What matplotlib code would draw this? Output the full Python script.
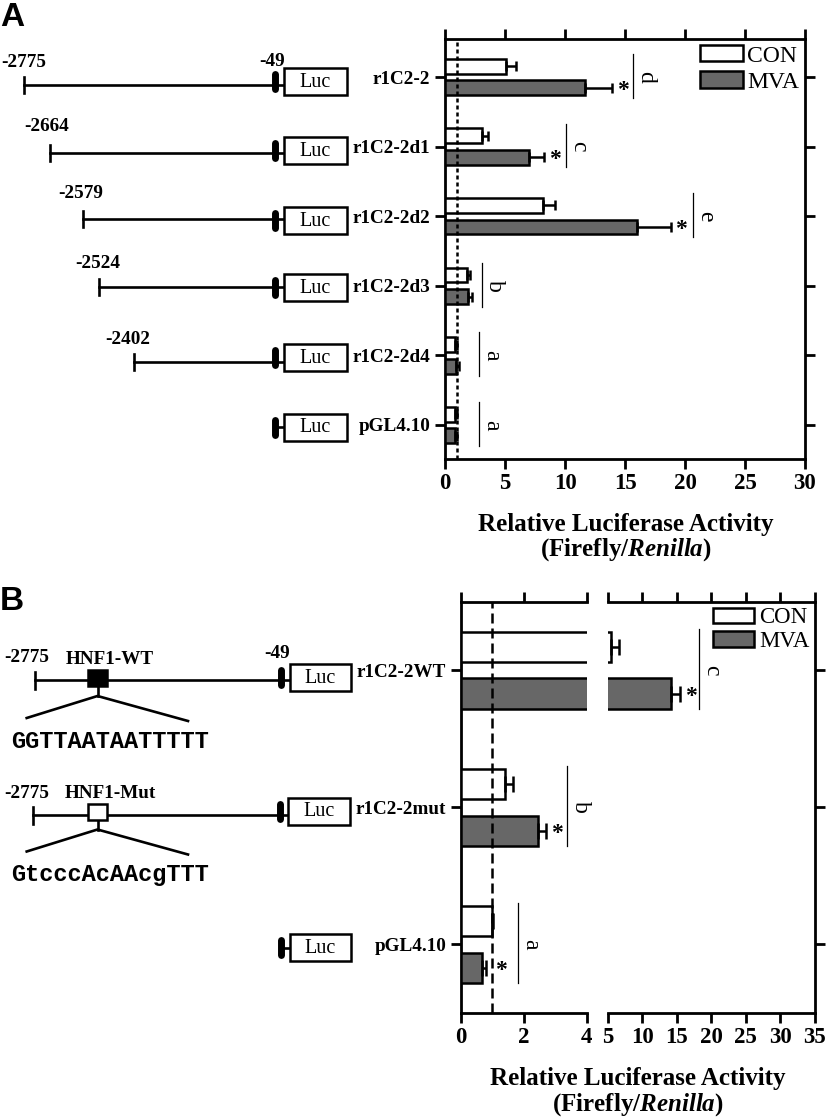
import matplotlib
matplotlib.use('Agg')
import matplotlib.pyplot as plt
from matplotlib.patches import Patch, Rectangle
import numpy as np

plt.rcParams['font.family'] = ['Liberation Serif', 'DejaVu Serif']
plt.rcParams['font.weight'] = 'bold'
plt.rcParams['mathtext.fontset'] = 'custom'
plt.rcParams['mathtext.rm'] = 'Liberation Serif:bold'
plt.rcParams['mathtext.bf'] = 'Liberation Serif:bold'
plt.rcParams['mathtext.it'] = 'Liberation Serif:italic:bold'

# ---------------- data ----------------
constructs_a = ['r1C2-2', 'r1C2-2d1', 'r1C2-2d2', 'r1C2-2d3', 'r1C2-2d4', 'pGL4.10']
promoter_start_a = ['-2775', '-2664', '-2579', '-2524', '-2402', '']
con_a = [5.1, 3.1, 8.2, 1.8, 0.85, 0.85]
con_err_a = [0.85, 0.45, 0.95, 0.25, 0.12, 0.15]
mva_a = [11.7, 7.0, 16.0, 1.95, 0.95, 0.8]
mva_err_a = [2.2, 1.25, 2.8, 0.3, 0.2, 0.18]
star_a = [True, True, True, False, False, False]
letters_a = ['d', 'c', 'e', 'b', 'a', 'a']

constructs_b = ['r1C2-2WT', 'r1C2-2mut', 'pGL4.10']
con_b = [5.5, 1.42, 0.98]
con_err_b = [1.15, 0.25, 0.05]
mva_b = [14.1, 2.45, 0.68]
mva_err_b = [1.4, 0.26, 0.11]
star_b = [True, True, True]
letters_b = ['c', 'b', 'a']
site_b = ['HNF1-WT', 'HNF1-Mut']
seq_b = ['GGTTAATAATTTTT', 'GtcccAcAAcgTTT']

xticks_a = [0, 5, 10, 15, 20, 25, 30]
xticks_b1 = [0, 2, 4]
xticks_b2 = [5, 10, 15, 20, 25, 30, 35]
reference_level = 1.0
series_names = ['CON', 'MVA']

# ---------------- layout / style ----------------
sig_line_a = [15.7, 10.1, 20.7, 3.06, 2.8, 2.8]
sig_line_b = [18.2, 3.39, 1.83]
star_dx_a = [0, 0, 0, 0, 0, 0]
star_dx_b = [0, 0, 3.5]
GRAY = '#676767'
LW = 1.8
SPW = 2.0

W, H = 827, 1118
fig = plt.figure(figsize=(W / 100, H / 100), dpi=100)


def frac(x0, y0, x1, y1):
    return [x0 / W, 1 - y1 / H, (x1 - x0) / W, (y1 - y0) / H]


axA = fig.add_axes(frac(445, 39.3, 805, 459.3))
axB1 = fig.add_axes(frac(460.7, 601.7, 586.7, 1013))
axB2 = fig.add_axes(frac(607.7, 601.7, 815, 1013))
dax = fig.add_axes([0, 0, 1, 1], zorder=-5)
dax.set_xlim(0, W)
dax.set_ylim(H, 0)
dax.axis('off')


def style(ax, left=True, right=True):
    for s in ax.spines.values():
        s.set_linewidth(SPW)
    ax.tick_params(axis='both', direction='out', length=7, width=SPW,
                   labelsize=16.5, pad=3)
    ax.tick_params(axis='x', top=True, bottom=True, labeltop=False)
    ax.tick_params(axis='y', left=left, right=right, labelleft=left,
                   labelright=False, labelsize=13.8, pad=3.5)


def draw_group(ax, n, con, con_err, mva, mva_err, off, bh, capsize):
    y = np.arange(n)
    ax.barh(y - off, con, height=bh, color='white', edgecolor='k',
            linewidth=LW, zorder=3)
    ax.barh(y + off, mva, height=bh, color=GRAY, edgecolor='k',
            linewidth=LW, zorder=3)
    ax.errorbar(con, y - off, xerr=[np.zeros(n), con_err], fmt='none',
                ecolor='k', elinewidth=LW, capsize=capsize, capthick=LW, zorder=4)
    ax.errorbar(mva, y + off, xerr=[np.zeros(n), mva_err], fmt='none',
                ecolor='k', elinewidth=LW, capsize=capsize, capthick=LW, zorder=4)


def stars_letters(ax, mva, mva_err, stars, star_dx, letters, lines, off, span):
    for i in range(len(mva)):
        if stars[i]:
            ax.annotate('*', xy=(mva[i] + mva_err[i], i + off),
                        xytext=(3.5 + star_dx[i], -5.8),
                        textcoords='offset points', ha='left', va='baseline',
                        fontsize=17, fontweight='bold', zorder=6)
        ax.plot([lines[i], lines[i]], [i + span[0], i + span[1]], color='k', lw=0.9)
        ax.annotate(letters[i], xy=(lines[i], i), xytext=(1.5, 0),
                    textcoords='offset points', rotation=-90, ha='left',
                    va='center', fontsize=17, fontweight='normal')


def legend(ax, size, spacing):
    handles = [Patch(facecolor='white', edgecolor='k', linewidth=LW, label=series_names[0]),
               Patch(facecolor=GRAY, edgecolor='k', linewidth=LW, label=series_names[1])]
    ax.legend(handles=handles, loc='upper right', frameon=False,
              prop={'size': size, 'weight': 'normal'}, handlelength=1.8,
              handleheight=0.68, handletextpad=0.2, labelspacing=spacing,
              borderaxespad=0.25, borderpad=0.0)


# ---------------- Panel A ----------------
nA = len(constructs_a)
draw_group(axA, nA, con_a, con_err_a, mva_a, mva_err_a, 0.155, 0.215, 3.6)
axA.axvline(reference_level, color='k', lw=1.8, ls=(0, (1.6, 1.2)), zorder=5)
stars_letters(axA, mva_a, mva_err_a, star_a, star_dx_a, letters_a, sig_line_a,
              0.155, (-0.33, 0.30))
axA.set_xlim(0, 30)
axA.set_ylim(nA - 0.507, -0.542)
axA.set_xticks(xticks_a)
axA.set_yticks(range(nA), constructs_a)
style(axA)
legend(axA, 17, 0.2)

# ---------------- Panel B ----------------
nB = len(constructs_b)
for ax in (axB1, axB2):
    draw_group(ax, nB, con_b, con_err_b, mva_b, mva_err_b, 0.17, 0.22, 6)
    stars_letters(ax, mva_b, mva_err_b, star_b, star_dx_b, letters_b, sig_line_b,
                  0.17, (-0.30, 0.28))
    ax.set_ylim(nB - 0.5, -0.5)
axB1.axvline(reference_level, color='k', lw=1.8, ls=(0, (4, 2)), zorder=5)
axB1.set_xlim(0, 4)
axB2.set_xlim(5, 35)
axB1.set_xticks(xticks_b1)
axB2.set_xticks(xticks_b2)
axB1.set_yticks(range(nB), constructs_b)
axB2.set_yticks(range(nB))
style(axB1, left=True, right=False)
style(axB2, left=False, right=True)
axB1.spines['right'].set_visible(False)
axB2.spines['left'].set_visible(False)
legend(axB2, 16.5, 0.1)

# axis titles
for xc, y1, y2 in ((626, 525, 550), (638, 1078, 1105)):
    fig.text(xc / W, 1 - y1 / H, 'Relative Luciferase Activity', ha='center',
             va='center', fontsize=18, fontweight='bold')
    fig.text(xc / W, 1 - y2 / H, r'(Firefly/$\mathit{Renilla}$)', ha='center',
             va='center', fontsize=18, fontweight='bold')

# panel letters
fig.text(0.0, 1 - 26 / H, 'A', ha='left', va='baseline', fontsize=24,
         fontweight='bold', family='Liberation Sans')
fig.text(0.0, 1 - 610 / H, 'B', ha='left', va='baseline', fontsize=24,
         fontweight='bold', family='Liberation Sans')


# ---------------- construct diagrams (schematic layout, pixels) ----------------
def luc(x0, x1, yc, h=27):
    dax.add_patch(Rectangle((x0, yc - h / 2), x1 - x0, h, facecolor='white',
                            edgecolor='k', lw=LW, zorder=3))
    dax.text((x0 + x1) / 2, yc + 1, 'Luc', ha='center', va='center',
             fontsize=14.5, fontweight='normal', zorder=4)


def blob(x, yc, half=7.5):
    dax.plot([x, x], [yc - half, yc + half], color='k', lw=5,
             solid_capstyle='round', zorder=3)


start_x_a = [24, 50, 83, 99, 134, None]
label_x_a = [23.5, 46.7, 80.8, 97.3, 127.8, None]
label_y_a = [62.5, 126.7, 193.3, 264, 340, None]
box_y_a = [81.5, 150.7, 220, 287.8, 357.8, 427]
line_y_a = [85, 153, 219, 287, 362, 427]
for i in range(nA):
    by = box_y_a[i]
    ly = line_y_a[i]
    sx = start_x_a[i]
    if sx is not None:
        dax.plot([sx, 284], [ly, ly], color='k', lw=1.9, zorder=2)
        dax.plot([sx, sx], [ly - 8, ly + 8], color='k', lw=1.9, zorder=2)
        dax.text(label_x_a[i], label_y_a[i], promoter_start_a[i], ha='center',
                 va='center', fontsize=13.8)
        if i == 0:
            dax.text(271.7, 62, '-49', ha='center', va='center', fontsize=13.8)
    else:
        dax.plot([275, 284], [by, by], color='k', lw=1.9, zorder=2)
    blob(275, by)
    luc(284, 347, by)

# Panel B diagrams
line_y_b = [680, 815]
box_y_b = [677.5, 811, 947.5]
start_x_b = [35, 33]
box_x_b = [(290, 351), (288, 350), (290, 351)]
blob_x_b = [281, 280, 281]
square_fill = ['black', 'white']
for i in range(2):
    ly = line_y_b[i]
    sx = start_x_b[i]
    dax.plot([sx, box_x_b[i][0]], [ly, ly], color='k', lw=1.9, zorder=2)
    dax.plot([sx, sx], [ly - 8.5, ly + 8.5], color='k', lw=1.9, zorder=2)
    sqy = ly - 2 - 1.5 * i
    dax.add_patch(Rectangle((88.3, sqy - 8), 18.4, 16, facecolor=square_fill[i],
                            edgecolor='k', lw=LW, zorder=3))
    dax.plot([97.5, 97.5], [sqy + 8, sqy + 18], color='k', lw=1.9)
    dax.plot([26.7, 97.5, 188], [sqy + 40, sqy + 18, sqy + 43], color='k', lw=1.9)
    dax.text(110, sqy + 63, seq_b[i], ha='center', va='center', fontsize=17,
             family='Liberation Mono', fontweight='bold')
    dax.text(27, ly - 22, '-2775', ha='center', va='center', fontsize=13.8)
    dax.text(110, ly - 21, site_b[i], ha='center', va='center', fontsize=13.8)
    if i == 0:
        dax.text(277.5, ly - 27, '-49', ha='center', va='center', fontsize=13.8)
dax.plot([281, 290], [box_y_b[2], box_y_b[2]], color='k', lw=1.9, zorder=2)
for i in range(3):
    blob(blob_x_b[i], box_y_b[i])
    luc(box_x_b[i][0], box_x_b[i][1], box_y_b[i])

fig.savefig('out.png', dpi=100)
